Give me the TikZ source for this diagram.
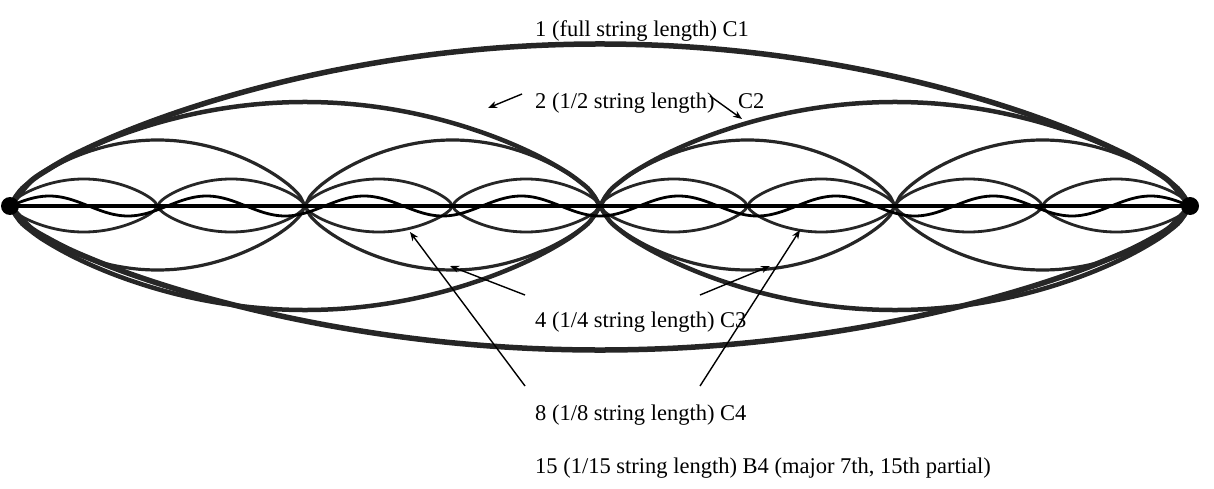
\documentclass[tikz,border=0pt]{standalone}
\usepackage{fontspec}
\setmainfont{Liberation Serif}
\usetikzlibrary{arrows.meta}
\begin{document}
\begin{tikzpicture}[x=1pt,y=-1pt,
  lab/.style={anchor=base west,inner sep=0pt,font=\fontsize{22.5}{26}\selectfont},
  arr/.style={-{Stealth[length=9pt,width=7pt]},line width=1.4pt},
  wave/.style={line width=#1,color=black!85}]
\useasboundingbox (0,0) rectangle (1214,489);
% full / halves / quarters / eighths
\foreach \n/\At/\Ab/\w in {1/162/144/5.5pt,2/104/104/4.5pt,4/66/64/3.2pt,8/27/26/2.8pt}{
  \pgfmathsetmacro{\L}{1180/\n}
  \foreach \k in {1,...,\n}{
    \pgfmathsetmacro{\a}{10+(\k-1)*\L}
    \draw[wave=\w] plot[domain=0:180,samples=60,smooth] ({\a+\x/180*\L},{206-\At*(abs(sin(\x)))^0.65});
    \draw[wave=\w] plot[domain=0:180,samples=60,smooth] ({\a+\x/180*\L},{206+\Ab*(abs(sin(\x)))^0.65});
  }
}
% fifteenth
\draw[line width=2.8pt] plot[domain=0:2700,samples=400,smooth] ({10+\x/2700*1180},{206-10*sin(\x)});
% string
\draw[line width=4pt] (10,206) -- (1190,206);
\fill (10,206) circle (9);
\fill (1190,206) circle (9);
% labels
\node[lab] (t1) at (535,37) {1 (full string length) C1};
\node[lab] (t2) at (535,109) {2 (1/2 string length)};
\node[lab] (t2b) at (738,109) {C2};
\node[lab] (t4) at (535,327) {4 (1/4 string length) C3};
\node[lab] (t8) at (535,420) {8 (1/8 string length) C4};
\node[lab] (t15) at (535,473) {15 (1/15 string length) B4 (major 7th, 15th partial)};
\coordinate (a1) at (488,108); \coordinate (a2) at (742,119);
\coordinate (b1) at (450,266); \coordinate (b2) at (770,266);
\coordinate (c1) at (410,232); \coordinate (c2) at (800,230);
\draw[arr] (522,94) -- (a1);
\draw[arr] (710,96) -- (a2);
\draw[arr] (525,295) -- (b1);
\draw[arr] (700,295) -- (b2);
\draw[arr] (525,386) -- (c1);
\draw[arr] (700,386) -- (c2);
\end{tikzpicture}
\end{document}
